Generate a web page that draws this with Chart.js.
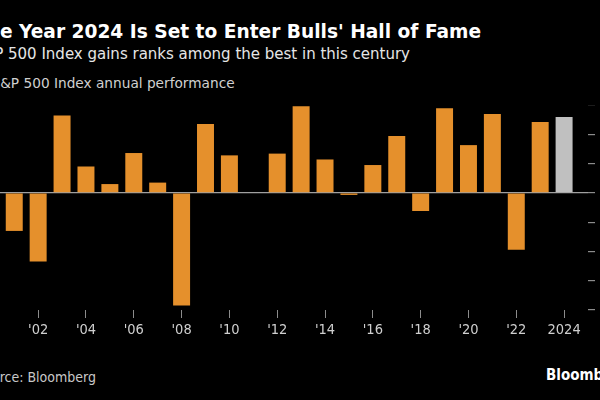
<!DOCTYPE html>
<html>
<head>
<meta charset="utf-8">
<script src="https://cdn.jsdelivr.net/npm/chart.js@4"></script>
<style>
  html, body { margin: 0; padding: 0; background: #000; }
  body { width: 600px; height: 400px; overflow: hidden; position: relative; }
  .txt { position: absolute; white-space: nowrap; }
  #title { left: -26px; top: 21px; font: bold 18.6px "DejaVu Sans", sans-serif; color: #fff; }
  #subtitle { left: -27px; top: 45px; font: 15px "DejaVu Sans", sans-serif; color: #e6e6e6; }
  #label { left: -8.5px; top: 75px; font: 13.7px "DejaVu Sans", sans-serif; color: #d0d0d0; }
  #source { left: -24px; top: 369px; font: 14px "DejaVu Sans Condensed", "DejaVu Sans", sans-serif; color: #c8c8c8; }
  #brand { left: 546px; top: 366px; font: bold 15px "DejaVu Sans Condensed", "DejaVu Sans", sans-serif; color: #fff; }
  #wrap { position: absolute; left: -24px; top: 105px; width: 662px; height: 235px; }
</style>
</head>
<body>
<div class="txt" id="title">The Year 2024 Is Set to Enter Bulls' Hall of Fame</div>
<div class="txt" id="subtitle">S&amp;P 500 Index gains ranks among the best in this century</div>
<div class="txt" id="label">S&amp;P 500 Index annual performance</div>
<div class="txt" id="source">Source: Bloomberg</div>
<div class="txt" id="brand">Bloomberg</div>
<div id="wrap"><canvas id="canvas"></canvas></div>
<script>
// annual % change of the S&P 500, 2024 is year to date
const years = [2000, 2001, 2002, 2003, 2004, 2005, 2006, 2007, 2008, 2009, 2010, 2011, 2012,
               2013, 2014, 2015, 2016, 2017, 2018, 2019, 2020, 2021, 2022, 2023, 2024];
const values = [-10.1, -13.0, -23.4, 26.4, 9.0, 3.0, 13.6, 3.5, -38.5, 23.5, 12.8, 0.0, 13.4,
                29.6, 11.4, -0.7, 9.5, 19.4, -6.2, 28.9, 16.3, 26.9, -19.4, 24.2, 25.9];
const tickYears = [2000, 2002, 2004, 2006, 2008, 2010, 2012, 2014, 2016, 2018, 2020, 2022, 2024];
const yTicks = [-40, -30, -20, -10, 0, 10, 20, 30];
const currentYear = 2024;

const ctx = document.getElementById('canvas').getContext('2d');
const font = { family: '"DejaVu Sans Condensed", "DejaVu Sans", sans-serif', size: 14.5 };

var chart = new Chart(ctx, {
    type: 'bar',
    data: {
        datasets: [{
            data: years.map((y, i) => ({ x: y, y: values[i] })),
            backgroundColor: years.map(y => y === currentYear ? 'rgb(192, 192, 192)' : 'rgb(229, 144, 44)'),
            barPercentage: 0.71,
            categoryPercentage: 1,
        }]
    },
    options: {
        responsive: true,
        maintainAspectRatio: false,
        animation: false,
        layout: { padding: 0 },
        plugins: { legend: { display: false }, tooltip: { enabled: false } },
        scales: {
            x: {
                type: 'linear',
                offset: false,
                min: 1999.4,
                max: 2025.0,
                afterBuildTicks: s => { s.ticks = tickYears.map(v => ({ value: v })); },
                afterFit: s => { s.height = 30; s.paddingLeft = 0; s.paddingRight = 0; },
                grid: { offset: false, drawOnChartArea: false, tickLength: 8, tickColor: '#8c8c8c' },
                border: { display: false },
                ticks: {
                    color: '#cfcfcf',
                    font: font,
                    padding: 4,
                    maxRotation: 0,
                    autoSkip: false,
                    callback: v => v === currentYear ? String(v) : "'" + String(v).slice(2)
                }
            },
            y: {
                position: 'right',
                min: -40,
                max: 30,
                afterBuildTicks: s => { s.ticks = yTicks.map(v => ({ value: v })); },
                afterFit: s => { s.width = 50; s.paddingTop = 0; s.paddingBottom = 0; },
                grid: {
                    color: c => c.tick && c.tick.value === 0 ? '#a0a0a0' : 'rgba(0,0,0,0)',
                    lineWidth: 1.2,
                    tickLength: 7,
                    tickColor: '#8c8c8c'
                },
                border: { display: false },
                ticks: { color: '#cfcfcf', font: font, padding: 6, callback: v => v + '%' }
            }
        }
    }
});
</script>
</body>
</html>
